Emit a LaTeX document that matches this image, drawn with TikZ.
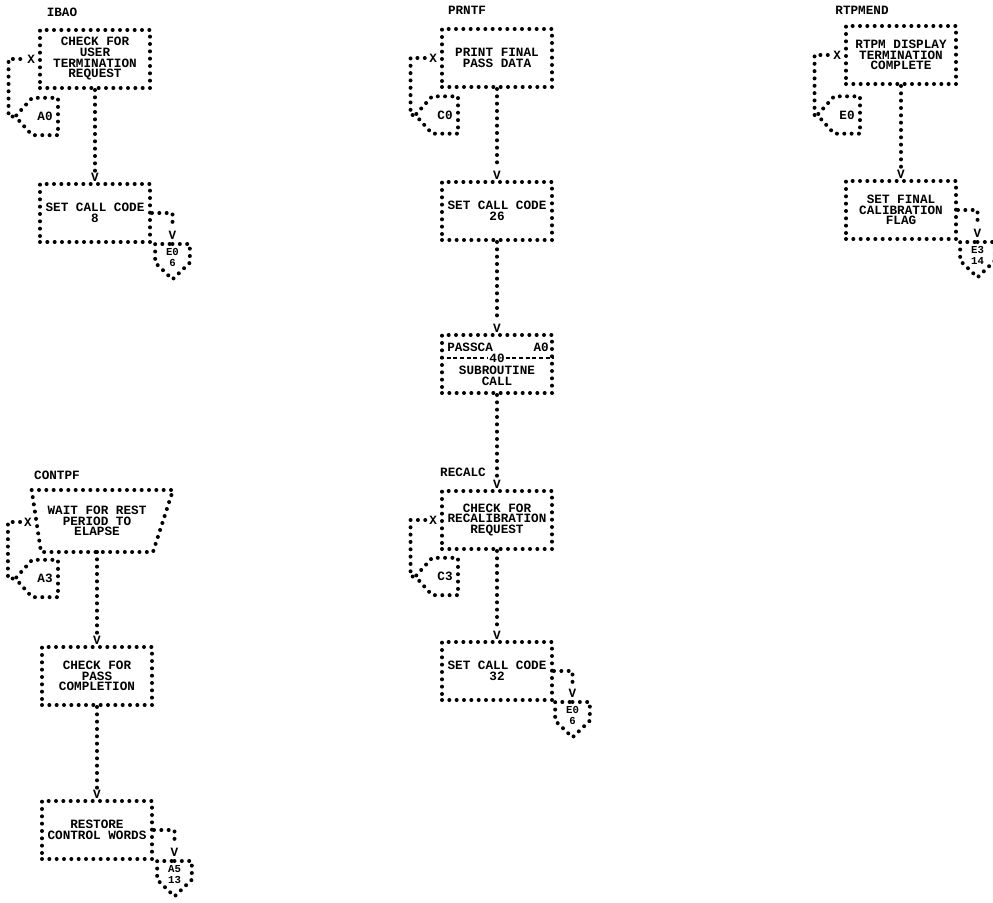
\documentclass[tikz,border=0pt]{standalone}
\usepackage{fontspec}
\usetikzlibrary{positioning,shapes.symbols}
\newfontfamily\chartfont{Liberation Mono}
\newcommand{\chartsz}{\chartfont\bfseries\fontsize{9.5}{8}\selectfont}
\tikzset{dots/.style={line width=3pt,line cap=round,dash pattern=on 0pt off 5.5pt},
  box/.style={dots,draw,rectangle,minimum width=82.5pt,minimum height=43.5pt,align=center,font=\chartsz,inner sep=1pt},
  offl/.style={dots,draw,signal,signal to=west,signal pointer angle=96,minimum width=32pt,minimum height=28pt,font=\chartsz,inner sep=0pt,anchor=east},
  offd/.style={dots,draw,signal,signal to=south,signal pointer angle=92,minimum width=26pt,minimum height=14pt,inner sep=0pt,anchor=north},
  offt/.style={font=\chartfont\bfseries\fontsize{8}{8.2}\selectfont,align=center,inner sep=0pt,anchor=north},
  lbl/.style={font=\chartsz,inner sep=0pt},
  xm/.style={font=\chartsz,inner sep=0pt},
  vee/.style={font=\chartsz,inner sep=0pt,anchor=north},
  divider/.style={line width=.8pt,dash pattern=on 3pt off 2pt}}
\begin{document}
\begin{tikzpicture}[x=.75pt,y=-.75pt]
\clip (0,0) rectangle (993,903);
\fill[white] (0,0) rectangle (993,903);
% IBAO
\node[lbl] (n1) at (62,12) {IBAO};
\node[box] (b1) at (95,59) {CHECK FOR\\USER\\TERMINATION\\REQUEST};
\node[xm,left=2pt of b1] (x1) {X};
\node[offl] (c1) at (60,116.5) {A0};
\draw[dots] (c1.west) -| ([xshift=-14pt]x1.west) -- (x1.west);
\node[box] (b2) at (95,213) {SET CALL CODE\\8};
\draw[dots] (b1.south) -- ([yshift=8pt]b2.north) node[vee]{V};
\node[offd] (e1) at (172.5,242) {};
\node[offt] (e1t) at ([yshift=-4.5pt]e1.north) {E0\\6};
\draw[dots] (b2.east) -| ([yshift=10pt]e1.north) node[vee]{V};
% CONTPF
\node[lbl] (n4) at (57,475) {CONTPF};
\node[box,draw=none,minimum width=81pt] (w1) at (97,521) {WAIT FOR REST\\PERIOD TO\\ELAPSE};
\draw[dots] ([xshift=-7pt]w1.north west) -- ([xshift=15pt]w1.north east) -- (w1.south east) -- (w1.south west) -- cycle;
\node[xm] (x2) at (28,522) {X};
\node[offl] (c2) at (60,578.5) {A3};
\draw[dots] (c2.west) -| ([xshift=-12pt]x2.west) -- (x2.west);
\node[box] (b3) at (97,676) {CHECK FOR\\PASS\\COMPLETION};
\draw[dots] (w1.south) -- ([yshift=8pt]b3.north) node[vee]{V};
\node[box] (b4) at (97,830) {RESTORE\\CONTROL WORDS};
\draw[dots] (b3.south) -- ([yshift=8pt]b4.north) node[vee]{V};
\node[offd] (e2) at (174.5,859) {};
\node[offt] (e2t) at ([yshift=-4.5pt]e2.north) {A5\\13};
\draw[dots] (b4.east) -| ([yshift=10pt]e2.north) node[vee]{V};
% PRNTF
\node[lbl] (n2) at (467,10) {PRNTF};
\node[box] (p1) at (497,58) {PRINT FINAL\\PASS DATA};
\node[xm,left=2pt of p1] (x3) {X};
\node[offl] (c3) at (460,115) {C0};
\draw[dots] (c3.west) -| ([xshift=-14pt]x3.west) -- (x3.west);
\node[box] (p2) at (497,211) {SET CALL CODE\\26};
\draw[dots] (p1.south) -- ([yshift=8pt]p2.north) node[vee]{V};
\node[box] (p3) at (497,364) {};
\node[lbl,anchor=west] (p3a) at (447,347) {PASSCA};
\node[lbl,anchor=east] (p3b) at (549,347) {A0};
\node[lbl,fill=white,inner sep=.5pt] (p3c) at (497,358) {40};
\draw[divider] (p3.west |- p3c) -- (p3c.west) (p3c.east) -- (p3.east |- p3c);
\node[lbl,align=center] (p3d) at (497,376) {SUBROUTINE\\CALL};
\draw[dots] (p2.south) -- ([yshift=8pt]p3.north) node[vee]{V};
% RECALC
\node[lbl] (n3) at (463,472) {RECALC};
\node[box] (p4) at (497,520) {CHECK FOR\\RECALIBRATION\\REQUEST};
\draw[dots] (p3.south) -- ([yshift=8pt]p4.north) node[vee]{V};
\node[xm,left=2pt of p4] (x4) {X};
\node[offl] (c4) at (460,576.5) {C3};
\draw[dots] (c4.west) -| ([xshift=-14pt]x4.west) -- (x4.west);
\node[box] (p5) at (497,671) {SET CALL CODE\\32};
\draw[dots] (p4.south) -- ([yshift=8pt]p5.north) node[vee]{V};
\node[offd] (e3) at (572.5,700) {};
\node[offt] (e3t) at ([yshift=-4.5pt]e3.north) {E0\\6};
\draw[dots] (p5.east) -| ([yshift=10pt]e3.north) node[vee]{V};
% RTPMEND
\node[lbl] (n5) at (862,10) {RTPMEND};
\node[box] (r1) at (901,55) {RTPM DISPLAY\\TERMINATION\\COMPLETE};
\node[xm,left=2pt of r1] (x5) {X};
\node[offl] (c5) at (862,115) {E0};
\draw[dots] (c5.west) -| ([xshift=-14pt]x5.west) -- (x5.west);
\node[box] (r2) at (901,210) {SET FINAL\\CALIBRATION\\FLAG};
\draw[dots] (r1.south) -- ([yshift=8pt]r2.north) node[vee]{V};
\node[offd] (e4) at (977.5,240) {};
\node[offt] (e4t) at ([yshift=-4.5pt]e4.north) {E3\\14};
\draw[dots] (r2.east) -| ([yshift=10pt]e4.north) node[vee]{V};
\end{tikzpicture}
\end{document}
